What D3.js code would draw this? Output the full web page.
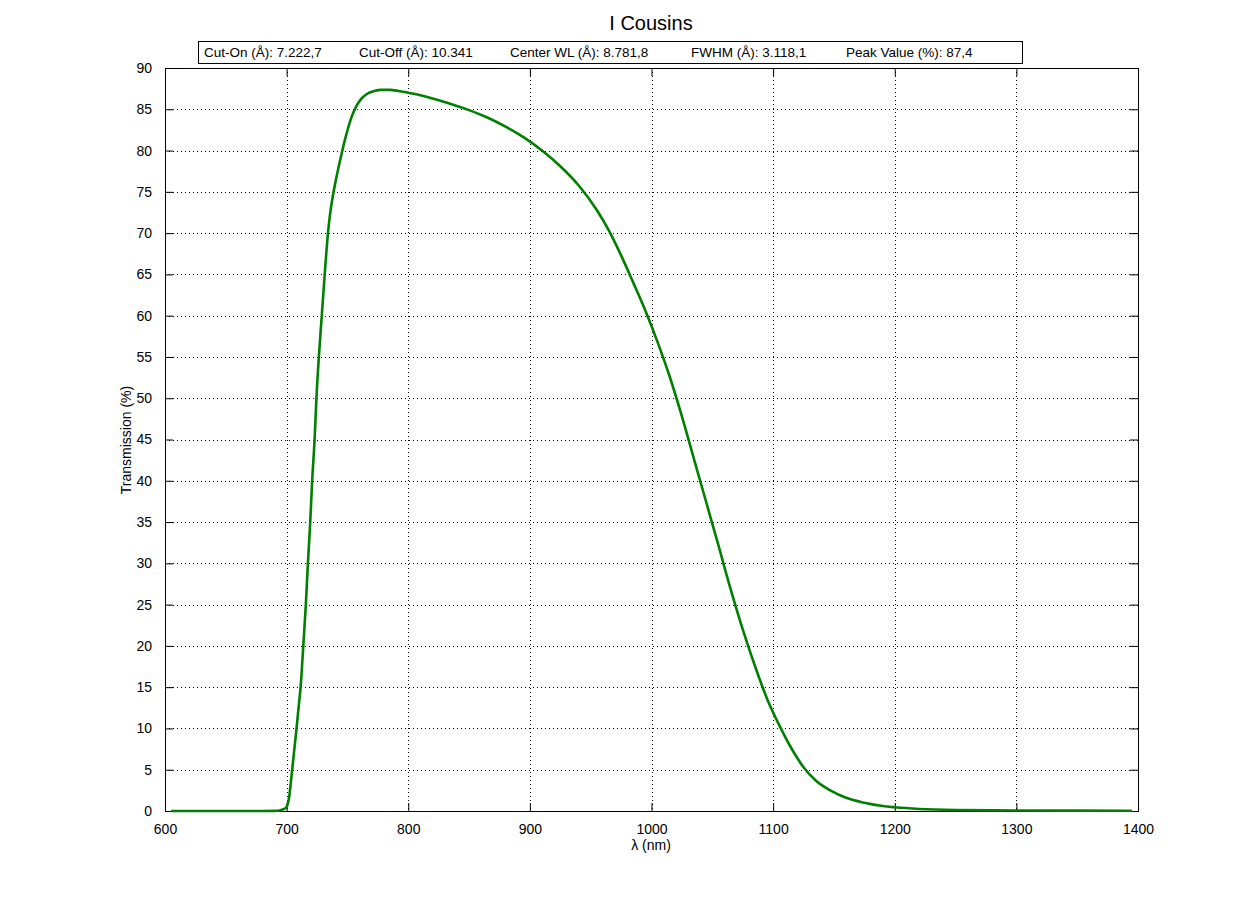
<!DOCTYPE html>
<html><head><meta charset="utf-8">
<script src="https://cdn.jsdelivr.net/npm/d3@7"></script>
<style>body{margin:0;background:#fff;} text{font-family:"Liberation Sans",Arial,sans-serif;}</style>
</head><body><svg id="c" width="1258" height="911"></svg>
<script>
const title = "I Cousins";
const infoLabels = ["Cut-On (Å): 7.222,7","Cut-Off (Å): 10.341","Center WL (Å): 8.781,8","FWHM (Å): 3.118,1","Peak Value (%): 87,4"];
const xTicks = [600,700,800,900,1000,1100,1200,1300,1400];
const yTicks = [0,5,10,15,20,25,30,35,40,45,50,55,60,65,70,75,80,85,90];
const wavelength = [605,620,650,680,690,695,698,700,702,704,706,708,710,711.5,713.7,715.8,717.5,719.4,721,723,724.5,726.5,728.9,731.3,734,736,738,741,745,749,753,757,761,766,772,778,785,792,800,810,820,835,850,865,880,895,910,925,940,955,965,975,985,995,1005,1015,1025,1035,1045,1055,1065,1075,1085,1095,1105,1115,1125,1135,1147,1160,1175,1190,1200,1220,1250,1300,1350,1395];
const transmission = [0,0,0,0,0.02,0.1,0.25,0.5,1.6,4.2,7.0,9.8,12.8,15,20,25,30,35,40,45,50,55,60,65,70,72.6,74.5,76.8,79.5,81.9,83.9,85.3,86.2,86.85,87.2,87.35,87.35,87.22,87.0,86.7,86.3,85.65,84.9,84.0,82.9,81.6,80.0,78.1,75.8,72.8,70.3,67.3,64.0,60.6,56.8,52.6,47.8,42.6,37.4,32.2,26.9,22.0,17.6,13.6,10.4,7.6,5.3,3.7,2.5,1.6,1.0,0.6,0.45,0.25,0.12,0.06,0.04,0.03];

const svg = d3.select("#c");
const L=165, R=1138, T=68, B=811;
const x = d3.scaleLinear().domain([600,1400]).range([L,R]);
const y = d3.scaleLinear().domain([0,90]).range([B,T]);

// grid
svg.append("g").selectAll("line").data(xTicks.slice(1,-1)).join("line")
  .attr("x1",d=>Math.round(x(d))+0.5).attr("x2",d=>Math.round(x(d))+0.5).attr("y1",T).attr("y2",B)
  .attr("stroke","#000").attr("stroke-width",1).attr("stroke-dasharray","1,3");
svg.append("g").selectAll("line").data(yTicks.slice(1,-1)).join("line")
  .attr("y1",d=>Math.round(y(d))+0.5).attr("y2",d=>Math.round(y(d))+0.5).attr("x1",L).attr("x2",R)
  .attr("stroke","#000").attr("stroke-width",1).attr("stroke-dasharray","1,3");

// axes
const tl=8, fmt=d3.format("d");
const ax = svg.append("g").attr("transform",`translate(0,${B})`)
  .call(d3.axisBottom(x).tickValues(xTicks).tickFormat(fmt).tickSizeInner(-tl).tickSizeOuter(0).tickPadding(tl+5));
const axTop = svg.append("g").attr("transform",`translate(0,${T})`)
  .call(d3.axisTop(x).tickValues(xTicks).tickSizeInner(-tl).tickSizeOuter(0).tickFormat(""));
const ay = svg.append("g").attr("transform",`translate(${L},0)`)
  .call(d3.axisLeft(y).tickValues(yTicks).tickFormat(fmt).tickSizeInner(-tl).tickSizeOuter(0).tickPadding(tl+5));
const ayR = svg.append("g").attr("transform",`translate(${R},0)`)
  .call(d3.axisRight(y).tickValues(yTicks).tickSizeInner(-tl).tickSizeOuter(0).tickFormat(""));
[ax,axTop,ay,ayR].forEach(g=>{g.select(".domain").remove();g.selectAll("line").attr("stroke","#000");
  g.selectAll("text").attr("font-size",14).attr("fill","#000").style("font-family","'Liberation Sans',Arial,sans-serif");});
ax.selectAll("text").attr("dy","0.71em");

svg.append("rect").attr("x",L+0.5).attr("y",T+0.5).attr("width",R-L).attr("height",B-T)
  .attr("fill","none").attr("stroke","#000").attr("stroke-width",1);

// line
const line = d3.line().x((d,i)=>x(wavelength[i])).y(d=>y(d)).curve(d3.curveMonotoneX);
svg.append("path").datum(transmission).attr("d",line).attr("fill","none")
  .attr("stroke","#008000").attr("stroke-width",2.6);

// title
svg.append("text").attr("x",651).attr("y",30).attr("text-anchor","middle").attr("font-size",20).text(title);

// info box
svg.append("rect").attr("x",198.5).attr("y",41.5).attr("width",824).attr("height",22).attr("fill","#fff").attr("stroke","#000");
const infoX=[204,359,510,691,846];
svg.append("g").selectAll("text").data(infoLabels).join("text")
  .attr("x",(d,i)=>infoX[i]).attr("y",57).attr("font-size",13.5).text(d=>d);

// axis labels
svg.append("text").attr("x",651).attr("y",850).attr("text-anchor","middle").attr("font-size",14).text("λ (nm)");
svg.append("text").attr("transform","translate(131,440) rotate(-90)").attr("text-anchor","middle").attr("font-size",14).text("Transmission (%)");
</script></body></html>
